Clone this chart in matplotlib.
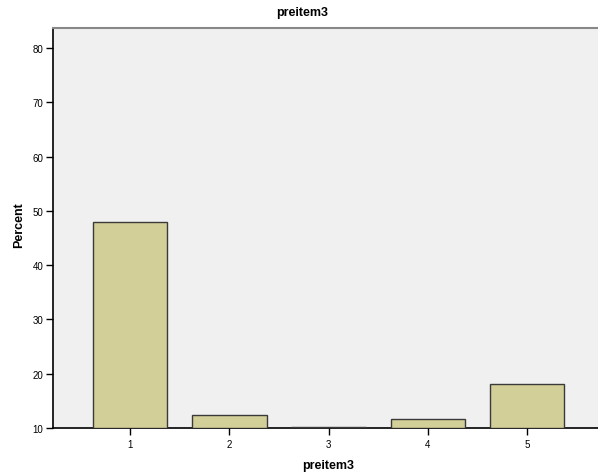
import matplotlib
matplotlib.use("Agg")
import matplotlib.pyplot as plt

categories = [1, 2, 3, 4, 5]
percent = [47.9, 12.4, 10.2, 11.6, 18.1]
yticks = [10, 20, 30, 40, 50, 60, 70, 80]
baseline = 10

plt.rcParams['font.family'] = ['Liberation Sans', 'DejaVu Sans']

fig = plt.figure(figsize=(5.98, 4.77), dpi=100)
ax = fig.add_axes([53/598, 48/477, 1 - 53/598, (429-29)/477])
ax.set_facecolor('#F0F0F0')

heights = [p - baseline for p in percent]
ax.bar(categories, heights, bottom=baseline, width=0.75, color='#D3CF98',
       edgecolor='#3a3a3a', linewidth=1.0, zorder=3)

ax.set_xlim(0.222, 5.717)
ax.set_ylim(10, 83.7)
ax.set_xticks(categories)
ax.set_xticklabels([str(c) for c in categories])
ax.set_yticks(yticks)
ax.tick_params(axis='both', labelsize=7, length=5, width=1, direction='out', colors='black')
ax.tick_params(axis='x', pad=3)
ax.tick_params(axis='y', pad=2)

ax.spines['right'].set_visible(False)
ax.spines['top'].set_color('#888888')
ax.spines['top'].set_linewidth(1.5)
for s in ['left', 'bottom']:
    ax.spines[s].set_color('black')
    ax.spines[s].set_linewidth(1.2)

ax.set_xlabel('preitem3', fontsize=9, fontweight='bold')
ax.xaxis.set_label_coords(0.505, -0.078)
ax.set_ylabel('Percent', fontsize=9, fontweight='bold')
ax.yaxis.set_label_coords(-0.052, 0.51)
fig.text(0.506, 0.973, 'preitem3', ha='center', va='center', fontsize=9, fontweight='bold')

fig.savefig('out.png', dpi=100)
